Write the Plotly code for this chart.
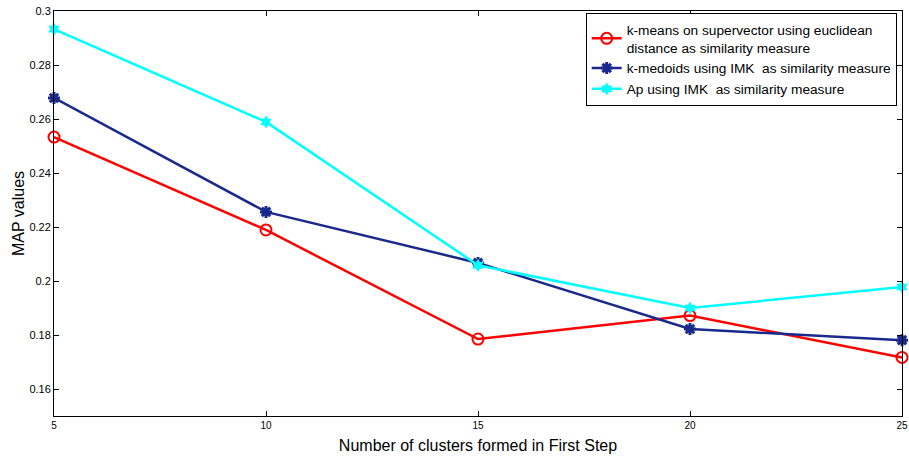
import plotly.graph_objects as go

clusters = [5, 10, 15, 20, 25]
kmeans_sv = [0.2533, 0.2189, 0.1785, 0.1872, 0.1717]
kmedoids_imk = [0.2678, 0.2256, 0.2067, 0.1822, 0.1781]
ap_imk = [0.2933, 0.2589, 0.2058, 0.1900, 0.1978]
y_ticks = [0.16, 0.18, 0.2, 0.22, 0.24, 0.26, 0.28, 0.3]
y_tick_labels = ["0.16", "0.18", "0.2", "0.22", "0.24", "0.26", "0.28", "0.3"]

fig = go.Figure()
fig.add_trace(go.Scatter(
    x=clusters, y=kmeans_sv, mode="lines+markers",
    name="k-means on supervector using euclidean<br>distance as similarity measure",
    line=dict(color="#ff0000", width=2.5),
    marker=dict(symbol="circle-open", size=11, color="#ff0000", line=dict(width=2)),
    cliponaxis=False))
fig.add_trace(go.Scatter(
    x=clusters, y=kmedoids_imk, mode="lines+markers",
    name="k-medoids using IMK  as similarity measure",
    line=dict(color="#1a2a8c", width=2.5),
    marker=dict(symbol="asterisk-open", size=10, color="#1a2a8c", line=dict(width=3, color="#1a2a8c")),
    cliponaxis=False))
fig.add_trace(go.Scatter(
    x=clusters, y=ap_imk, mode="lines+markers",
    name="Ap using IMK  as similarity measure",
    line=dict(color="#00ffff", width=2.5),
    marker=dict(symbol="hexagram", size=10, color="#00ffff"),
    cliponaxis=False))

fig.update_layout(
    width=909, height=457,
    margin=dict(l=54, r=7, t=11, b=41),
    paper_bgcolor="white", plot_bgcolor="white",
    font=dict(family="Liberation Sans, Arial", color="black"),
    showlegend=True,
    legend=dict(x=0.627, y=0.995, xanchor="left", yanchor="top",
                bgcolor="white", bordercolor="black", borderwidth=1,
                font=dict(size=13.7), tracegroupgap=0, itemwidth=30),
    xaxis=dict(range=[5, 25], tickvals=clusters, ticks="inside", ticklen=5,
               tickcolor="black", showline=True, linecolor="black", mirror="ticks",
               showgrid=False, zeroline=False, tickfont=dict(size=10),
               ticklabeloverflow="allow", automargin=False,
               title=dict(text="Number of clusters formed in First Step", font=dict(size=16), standoff=9)),
    yaxis=dict(range=[0.15, 0.3], tickvals=y_ticks, ticktext=y_tick_labels, ticks="inside", ticklen=5,
               tickcolor="black", showline=True, linecolor="black", mirror="ticks",
               showgrid=False, zeroline=False, tickfont=dict(size=11), automargin=False,
               title=dict(text="MAP values", font=dict(size=16), standoff=0)),
)
fig.write_html("out.html")
